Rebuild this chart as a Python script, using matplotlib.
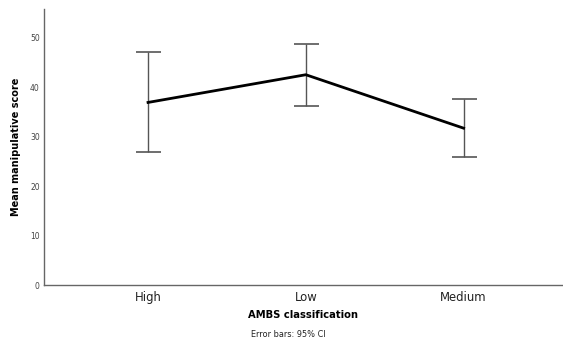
import matplotlib.pyplot as plt
import numpy as np

categories = ["High", "Low", "Medium"]
means = [36.9, 42.5, 31.7]
ci_lower = [26.8, 36.2, 25.9]
ci_upper = [47.0, 48.8, 37.5]

fig = plt.figure(figsize=(5.63, 3.43), dpi=100)
ax = fig.add_axes([0.078, 0.169, 0.922, 0.805])

x = np.arange(len(categories))
m = np.array(means)
yerr = [m - np.array(ci_lower), np.array(ci_upper) - m]

ax.errorbar(x, m, yerr=yerr, fmt="none", ecolor="#555555", elinewidth=1.0,
            capsize=9, capthick=1.2, zorder=2)
ax.plot(x, m, color="black", linewidth=2, zorder=3)

ax.set_xlim(-0.66, 2.63)
ax.set_ylim(0, 55.8)
ax.set_yticks([0, 10, 20, 30, 40, 50])
ax.set_xticks(x)
ax.set_xticklabels(categories, fontsize=8.4, color="#222222")
ax.tick_params(axis="y", length=0, labelsize=5.5, labelcolor="#444444", pad=3)
ax.tick_params(axis="x", length=0, pad=4)

for s in ["top", "right"]:
    ax.spines[s].set_visible(False)
for s in ["left", "bottom"]:
    ax.spines[s].set_color("#666666")
    ax.spines[s].set_linewidth(1)

ax.set_ylabel("Mean manipulative score", fontsize=7.0, fontweight="bold")
ax.yaxis.set_label_coords(-0.045, 0.5)
ax.set_xlabel("AMBS classification", fontsize=7.2, fontweight="bold")
ax.xaxis.set_label_coords(0.5, -0.092)
fig.text(0.512, 0.026, "Error bars: 95% CI", ha="center", va="center", fontsize=5.9, color="#222222")

fig.savefig("out.png", dpi=100)
